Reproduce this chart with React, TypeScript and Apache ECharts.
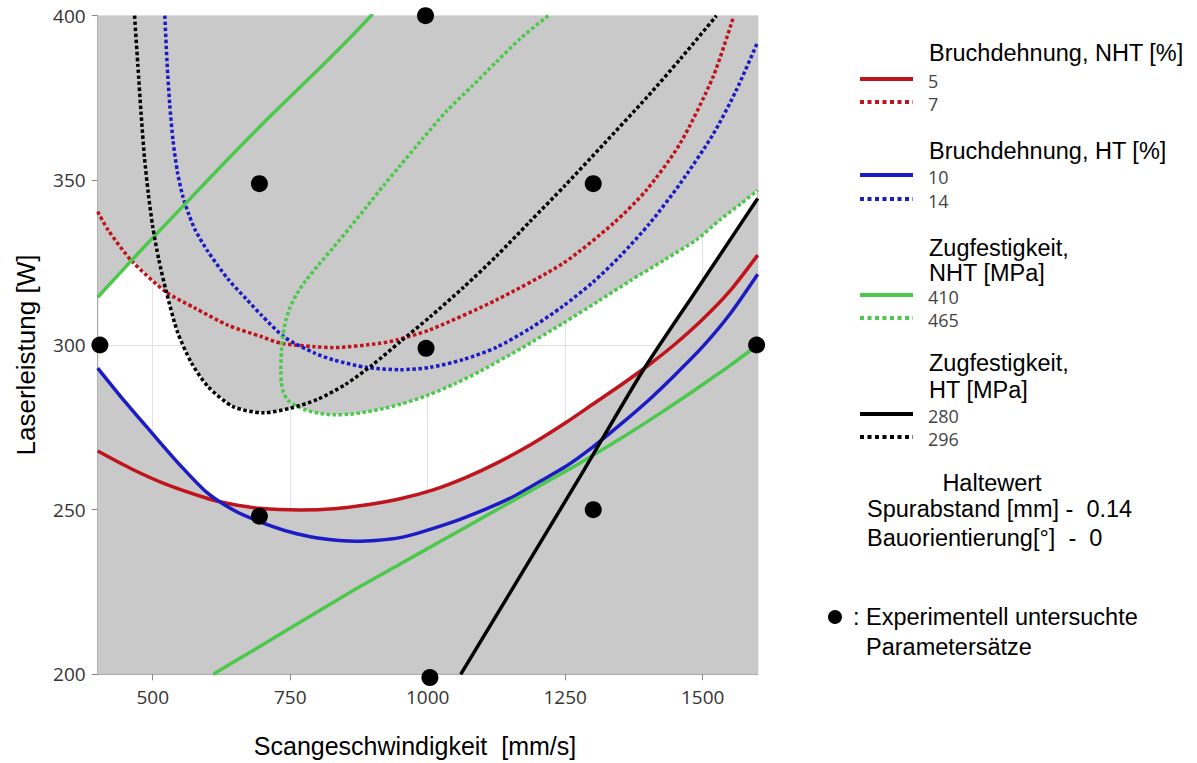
import React, { useEffect, useRef } from "react";
import * as echarts from "echarts";

type Pt = [number, number];

// Axis ticks
const speedTicks = [500, 750, 1000, 1250, 1500];

// Bruchdehnung, NHT [%]
const elongNht5: Pt[] = [[400, 267.8], [460, 262.5], [520, 258], [600, 253.4], [640, 251.8], [695, 250.4], [768, 249.9], [830, 250.3], [890, 251.5], [950, 253.3], [1010, 256], [1070, 259.8], [1130, 264.5], [1190, 270], [1250, 276.3], [1300, 282], [1350, 287.7], [1400, 293.7], [1450, 300.3], [1500, 307.8], [1550, 316.5], [1600, 327.3]];
const elongNht7: Pt[] = [[400, 340.5], [419, 334.9], [462, 325.5], [525, 316], [577, 311.2], [637, 306], [698, 302.5], [734, 300.5], [795, 299.5], [828, 299.2], [913, 300.5], [943, 301.5], [1004, 304.6], [1125, 313.7], [1246, 324.8], [1338, 337], [1398, 347.1], [1459, 361.2], [1519, 381.5], [1556, 399.7]];

// Bruchdehnung, HT [%]
const elongHt10: Pt[] = [[400, 293], [450, 282.7], [500, 273], [550, 263.5], [600, 255], [650, 249.6], [700, 246], [750, 243.2], [800, 241.4], [870, 240.4], [950, 241.5], [1034, 245.6], [1100, 249.8], [1156, 254], [1200, 258.2], [1250, 263], [1300, 269], [1350, 275.8], [1400, 283], [1450, 291], [1500, 299.5], [1550, 309.5], [1600, 321.5]];
const elongHt14: Pt[] = [[522, 400], [526, 386], [531, 373], [537, 362], [545, 352.5], [555, 345], [566, 339.5], [577, 335], [600, 328.5], [637, 320], [670, 314], [698, 309], [740, 302.3], [795, 297.5], [828, 295.5], [889, 293.2], [950, 292.5], [1004, 293.2], [1065, 295.6], [1125, 299.3], [1186, 305], [1246, 311.8], [1300, 319], [1350, 327], [1404, 337], [1459, 349], [1519, 364], [1560, 377], [1600, 392]];

// Zugfestigkeit, NHT [MPa]
const tensileNht410Upper: Pt[] = [[400, 314.5], [480, 329], [560, 343], [640, 357], [720, 370.5], [800, 383.5], [860, 393.5], [900, 400.5]];
const tensileNht410Lower: Pt[] = [[610, 200], [700, 209], [790, 218], [870, 226], [950, 233.5], [1030, 241], [1110, 248.5], [1190, 256], [1270, 263.5], [1350, 271.5], [1400, 276.8], [1450, 282.3], [1500, 288], [1550, 293.8], [1600, 300]];
const tensileNht465: Pt[] = [[1219, 400], [1170, 393.3], [1125, 386], [1080, 378.5], [1034, 371], [990, 362.5], [950, 354.5], [920, 348.5], [889, 342], [860, 336], [828, 329.5], [800, 324], [778, 319.5], [762, 315.5], [750, 311.5], [742, 307.5], [737, 303], [734, 298], [733, 292], [734, 288.5], [738, 285.5], [746, 283.2], [760, 281.6], [780, 280.2], [805, 279.2], [828, 278.8], [860, 279], [889, 279.7], [920, 280.7], [950, 282], [998, 284.6], [1050, 288.3], [1095, 292], [1170, 299], [1246, 306.6], [1310, 313.3], [1368, 319.5], [1430, 325.8], [1489, 332], [1531, 338], [1570, 343], [1600, 347]];

// Zugfestigkeit, HT [MPa]
const tensileHt280: Pt[] = [[1060, 200], [1277, 260], [1392, 292.4], [1489, 316.7], [1574, 338], [1600, 344.5]];
const tensileHt296: Pt[] = [[467, 400], [473, 385], [479, 370], [485, 357], [492, 346], [500, 336], [511, 326], [525, 316], [545, 304], [571, 294.4], [601, 287.3], [646, 281.3], [701, 279.4], [750, 280.8], [800, 283.5], [850, 288], [900, 294], [950, 301], [1004, 308.5], [1065, 317.5], [1125, 327], [1186, 337.5], [1250, 348.5], [1320, 361], [1400, 375.5], [1460, 387], [1525, 400]];

// Where the limiting contours cross along the edge of the feasible window
const upperCrossings: Pt[] = [[462, 325.8], [525, 316], [762, 281.5]];
const lowerCrossings: Pt[] = [[615, 253], [1390, 292]];

// Experimentell untersuchte Parametersätze
const experiments: Pt[] = [[404, 300], [694, 349], [996, 400], [1301, 349], [997, 299], [1598, 300], [694, 248], [1301, 250], [1004, 199]];

const RED = "#c0141c";
const BLUE = "#1c1cc4";
const GREEN = "#4cc94c";
const BLACK = "#000000";
const SHADE = "#c9c9c9";
const DOTS = [3.5, 2.5];

const between = (c: Pt[], a: number, b: number) => c.filter((p) => p[0] > a && p[0] < b);

// lower arc of the closed 465 MPa contour (points from its left-most point on)
const leftMost = tensileNht465.reduce((m, p, i, arr) => (p[0] < arr[m][0] ? i : m), 0);
const tensile465Lower = tensileNht465.slice(leftMost);

const upperEdge: Pt[] = [
  tensileNht410Upper[0],
  ...between(tensileNht410Upper, 400, upperCrossings[0][0]),
  upperCrossings[0],
  ...between(elongNht7, upperCrossings[0][0], upperCrossings[1][0]),
  upperCrossings[1],
  ...between(tensileHt296, upperCrossings[1][0], upperCrossings[2][0]),
  upperCrossings[2],
  ...between(tensile465Lower, upperCrossings[2][0], 1601),
];
const lowerEdge: Pt[] = [
  elongHt10[0],
  ...between(elongHt10, 400, lowerCrossings[0][0]),
  lowerCrossings[0],
  ...between(elongNht5, lowerCrossings[0][0], lowerCrossings[1][0]),
  lowerCrossings[1],
  ...between(tensileHt280, lowerCrossings[1][0], 1601),
];
const shadeAbove: Pt[] = [[400, 400], ...upperEdge, [1600, 400]];
const shadeBelow: Pt[] = [[400, 200], ...lowerEdge, [1600, 200]];

const curve = (name: string, data: Pt[], color: string, dotted: boolean) => ({
  type: "line",
  name,
  data,
  symbol: "none",
  showSymbol: false,
  smooth: 0.25,
  silent: true,
  clip: true,
  z: 3,
  lineStyle: { color, width: 3.5, type: dotted ? DOTS : "solid", cap: "butt" },
});

const legendGroups = [
  { titles: ["Bruchdehnung, NHT [%]"], titleY: [53], color: RED, labels: ["5", "7"], rowY: [79, 102] },
  { titles: ["Bruchdehnung, HT [%]"], titleY: [151], color: BLUE, labels: ["10", "14"], rowY: [175, 199] },
  { titles: ["Zugfestigkeit,", "NHT [MPa]"], titleY: [248, 273], color: GREEN, labels: ["410", "465"], rowY: [295, 318] },
  { titles: ["Zugfestigkeit,", "HT [MPa]"], titleY: [363, 390], color: BLACK, labels: ["280", "296"], rowY: [414, 437] },
];

const TITLE_FONT = "'Liberation Sans', Arial, sans-serif";
const TICK_FONT = "'Open Sans', sans-serif";

const txt = (text: string, x: number, y: number, size: number, extra: any = {}) => ({
  type: "text",
  x,
  y,
  silent: true,
  style: {
    text,
    fontSize: size,
    fontFamily: TITLE_FONT,
    fill: "#000",
    verticalAlign: "middle",
    align: "left",
    lineHeight: Math.round(size * 0.85),
    ...extra,
  },
});

const graphics: any[] = [];
legendGroups.forEach((g) => {
  g.titles.forEach((t, i) => graphics.push(txt(t, 929, g.titleY[i], 23.5)));
  g.labels.forEach((l, i) => {
    graphics.push({
      type: "line",
      silent: true,
      shape: { x1: 860, y1: g.rowY[i], x2: 913, y2: g.rowY[i] },
      style: { stroke: g.color, lineWidth: 4, lineDash: i === 0 ? null : [4, 3.5] },
    });
    graphics.push(txt(l, 928, g.rowY[i] + 1.5, 18, { fontFamily: TICK_FONT, fill: "#444" }));
  });
});
graphics.push(txt("Haltewert", 992, 483, 23.5, { align: "center" }));
graphics.push(txt("Spurabstand [mm] -  0.14", 867, 509, 23.5));
graphics.push(txt("Bauorientierung[°]  -  0", 867, 538, 23.5));
graphics.push({ type: "circle", silent: true, shape: { cx: 835, cy: 617, r: 7 }, style: { fill: "#000" } });
graphics.push(txt(": Experimentell untersuchte", 853, 617, 23.5));
graphics.push(txt("Parametersätze", 866, 647, 23.5));
graphics.push(txt("Scangeschwindigkeit  [mm/s]", 415, 746, 25, { align: "center" }));
const yTitle: any = txt("Laserleistung [W]", 26, 355, 26, { align: "center" });
yTitle.rotation = Math.PI / 2;
graphics.push(yTitle);

const option: any = {
  animation: false,
  grid: {
    left: 97.7,
    right: 439.3,
    top: 15.7,
    bottom: 88.7,
    show: true,
    borderColor: "#a8a8a8",
    borderWidth: 1,
    backgroundColor: "transparent",
  },
  xAxis: {
    type: "value",
    min: 400,
    max: 1600,
    axisLine: { show: true, lineStyle: { color: "#a8a8a8" } },
    axisTick: { show: true, customValues: speedTicks, length: 6, lineStyle: { color: "#888" } },
    axisLabel: {
      customValues: speedTicks,
      formatter: (v: number) => String(v),
      margin: 13,
      color: "#333",
      fontSize: 19,
      fontFamily: TICK_FONT,
    },
    splitLine: { show: true, lineStyle: { color: "#e2e2e2" } },
  },
  yAxis: {
    type: "value",
    min: 200,
    max: 400,
    interval: 50,
    axisLine: { show: true, lineStyle: { color: "#a8a8a8" } },
    axisTick: { show: true, length: 6, lineStyle: { color: "#888" } },
    axisLabel: { formatter: (v: number) => String(v), margin: 12, color: "#333", fontSize: 19, fontFamily: TICK_FONT },
    splitLine: { show: true, lineStyle: { color: "#e2e2e2" } },
  },
  series: [
    {
      type: "custom",
      silent: true,
      clip: true,
      z: 1,
      data: [[400, 200]],
      renderItem: (params: any, api: any) => {
        if (params.dataIndex !== 0) return null;
        return {
          type: "group",
          children: [shadeAbove, shadeBelow].map((poly) => ({
            type: "polygon",
            shape: { points: poly.map((p) => api.coord(p)) },
            style: { fill: SHADE, stroke: null },
          })),
        };
      },
    },
    curve("5", elongNht5, RED, false),
    curve("7", elongNht7, RED, true),
    curve("10", elongHt10, BLUE, false),
    curve("14", elongHt14, BLUE, true),
    curve("410", tensileNht410Upper, GREEN, false),
    curve("410 ", tensileNht410Lower, GREEN, false),
    curve("465", tensileNht465, GREEN, true),
    curve("280", tensileHt280, BLACK, false),
    curve("296", tensileHt296, BLACK, true),
    {
      type: "scatter",
      name: "Parametersätze",
      data: experiments,
      symbol: "circle",
      symbolSize: 17,
      clip: false,
      silent: true,
      z: 5,
      itemStyle: { color: "#000", opacity: 1 },
    },
  ],
  graphic: graphics,
};

export default function App() {
  const ref = useRef<HTMLDivElement>(null);
  useEffect(() => {
    const chart = echarts.init(ref.current!, null, { renderer: "svg" });
    chart.setOption(option);
    return () => chart.dispose();
  }, []);
  return (
    <div
      ref={ref}
      style={{ position: "fixed", left: 0, top: 0, width: 1197, height: 763, background: "#fff" }}
    />
  );
}
